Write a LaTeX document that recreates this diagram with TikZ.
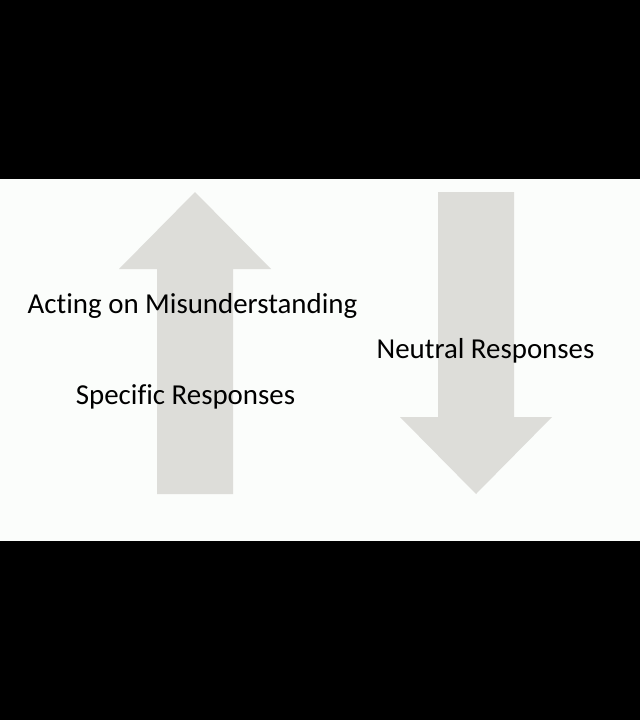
\documentclass[tikz,border=0pt]{standalone}
\usepackage{fontspec}
\setmainfont[Ligatures=NoCommon]{Carlito}
\begin{document}
\begin{tikzpicture}[x=1bp,y=-1bp,
  bigarrow/.style={fill=arrowgray,draw=none},
  label/.style={anchor=base,inner sep=0pt,font=\fontsize{29}{33}\selectfont,text=black}]
\definecolor{arrowgray}{HTML}{DDDDD9}
\definecolor{slidebg}{HTML}{FBFDFB}
% frame: black bars above and below the slide
\fill[black] (0,0) rectangle (640,720);
\fill[slidebg] (0,179) rectangle (640,541);
\useasboundingbox (0,0) rectangle (640,720);
% upward block arrow
\fill[bigarrow] (157,494) -- (157,269) -- (119,269) -- (195,192) -- (271,269) -- (233,269) -- (233,494) -- cycle;
% downward block arrow
\fill[bigarrow] (438,192) -- (438,417) -- (400,417) -- (476,494) -- (552,417) -- (514,417) -- (514,192) -- cycle;
% labels
\node[label] (acting) at (192.5,313) {Acting on Misunderstanding};
\node[label] (neutral) at (485.5,358) {Neutral Responses};
\node[label] (specific) at (185.5,404) {Specific Responses};
\end{tikzpicture}
\end{document}
